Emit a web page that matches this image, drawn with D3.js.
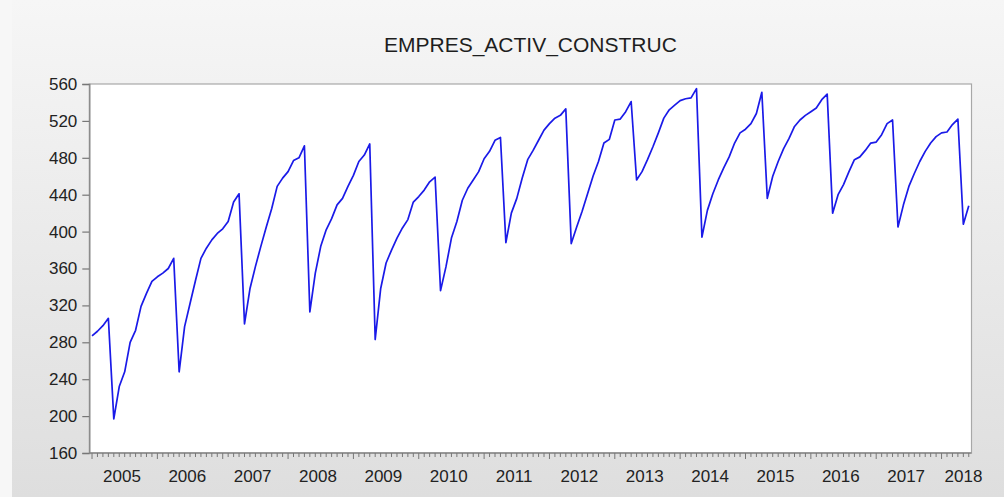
<!DOCTYPE html>
<html lang="en">
<head>
<meta charset="utf-8">
<title>EMPRES_ACTIV_CONSTRUC</title>
<script src="https://cdn.jsdelivr.net/npm/d3@7"></script>
<style>
    body { margin: 0; }
    svg { display: block; font-family: "Liberation Sans", Arial, sans-serif; }
</style>
</head>
<body>
<div id="chart"></div>
<script>
    // monthly series, Jan 2005 .. Jun 2018
    var startYear = 2005;
    var years = [2005, 2006, 2007, 2008, 2009, 2010, 2011, 2012, 2013, 2014, 2015, 2016, 2017, 2018];
    var yTicks = [160, 200, 240, 280, 320, 360, 400, 440, 480, 520, 560];
    var values = [
        287, 292, 298, 306, 197, 232, 248, 280, 293, 319, 333, 346,   // 2005
        351, 355, 360, 371, 248, 297, 322, 347, 371, 382, 391, 398,   // 2006
        403, 411, 432, 441, 300, 338, 362, 384, 405, 425, 449, 458,   // 2007
        465, 477, 480, 493, 313, 355, 384, 402, 414, 429, 436, 449,   // 2008
        461, 476, 483, 495, 283, 338, 366, 380, 393, 404, 413, 432,   // 2009
        438, 445, 454, 459, 336, 362, 393, 411, 434, 447, 456, 465,   // 2010
        479, 487, 499, 502, 388, 420, 436, 458, 478, 488, 499, 510,   // 2011
        517, 523, 526, 533, 387, 405, 422, 441, 460, 476, 496, 500,   // 2012
        521, 522, 530, 541, 456, 465, 478, 492, 507, 523, 532, 537,   // 2013
        542, 544, 545, 555, 394, 423, 441, 456, 469, 481, 496, 507,   // 2014
        511, 517, 528, 551, 436, 460, 476, 490, 501, 514, 521, 526,   // 2015
        530, 534, 543, 549, 420, 440, 451, 465, 478, 481, 488, 496,   // 2016
        497, 505, 517, 521, 405, 429, 449, 463, 476, 487, 496, 503,   // 2017
        507, 508, 516, 522, 408, 428                                   // 2018
    ];

    var width = 1004, height = 497;
    var plotLeft = 89.3, plotRight = 971.5, plotTop = 84, plotBottom = 453;

    var svg = d3.select("#chart").append("svg")
        .attr("width", width)
        .attr("height", height);

    // grey window background
    var grad = svg.append("defs").append("linearGradient")
        .attr("id", "bg").attr("x1", 0).attr("y1", 0).attr("x2", 0).attr("y2", 1);
    grad.append("stop").attr("offset", "0%").attr("stop-color", "#f6f6f6");
    grad.append("stop").attr("offset", "100%").attr("stop-color", "#dedede");
    svg.append("rect").attr("width", width).attr("height", height).attr("fill", "url(#bg)");
    svg.append("rect").attr("width", 12).attr("height", height).attr("fill", "#f7f7f7");

    var x = d3.scaleLinear()
        .domain([-0.5, values.length - 0.5])
        .range([plotLeft, plotRight]);
    var y = d3.scaleLinear()
        .domain([160, 560])
        .range([plotBottom, plotTop]);

    // plot area
    svg.append("rect")
        .attr("x", plotLeft).attr("y", plotTop)
        .attr("width", plotRight - plotLeft).attr("height", plotBottom - plotTop)
        .attr("fill", "white")
        .attr("stroke", "#a8a8a8")
        .attr("stroke-width", 1.2);

    // title
    svg.append("text")
        .attr("x", (plotLeft + plotRight) / 2)
        .attr("y", 52)
        .attr("text-anchor", "middle")
        .style("font-size", "21px")
        .style("fill", "#1e1e1e")
        .text("EMPRES_ACTIV_CONSTRUC");

    // y axis
    var yAxis = svg.append("g")
        .attr("transform", "translate(" + plotLeft + ",0)")
        .call(d3.axisLeft(y).tickValues(yTicks).tickSize(7).tickPadding(5));
    yAxis.select(".domain").attr("stroke", "#888").attr("stroke-width", 1.4);
    yAxis.selectAll(".tick line").attr("stroke", "#777").attr("stroke-width", 1.2);
    yAxis.selectAll(".tick text").style("font-size", "17px").style("fill", "#222");

    // x axis: month ticks, longer at each January
    var months = d3.range(values.length);
    var xAxis = svg.append("g");
    xAxis.append("line")
        .attr("x1", plotLeft).attr("x2", plotRight)
        .attr("y1", plotBottom).attr("y2", plotBottom)
        .attr("stroke", "#888").attr("stroke-width", 1.4);
    xAxis.selectAll("line.tick")
        .data(months)
        .enter().append("line")
        .attr("class", "tick")
        .attr("x1", function(d) { return x(d); })
        .attr("x2", function(d) { return x(d); })
        .attr("y1", plotBottom)
        .attr("y2", function(d) { return plotBottom + (d % 12 === 0 ? 6 : 4); })
        .attr("stroke", "#777")
        .attr("stroke-width", 1);
    xAxis.selectAll("text")
        .data(years)
        .enter().append("text")
        .attr("x", function(d) {
            var mid = x((d - startYear) * 12 + 5.5);
            return Math.min(mid, plotRight - 8);
        })
        .attr("y", 482)
        .attr("text-anchor", "middle")
        .style("font-size", "17px")
        .style("fill", "#222")
        .text(function(d) { return d; });

    // series line
    var line = d3.line()
        .x(function(d, i) { return x(i); })
        .y(function(d) { return y(d); });

    svg.append("path")
        .datum(values)
        .attr("d", line)
        .attr("fill", "none")
        .attr("stroke", "#1a1ae8")
        .attr("stroke-width", 1.7)
        .attr("stroke-linejoin", "round");
</script>
</body>
</html>
